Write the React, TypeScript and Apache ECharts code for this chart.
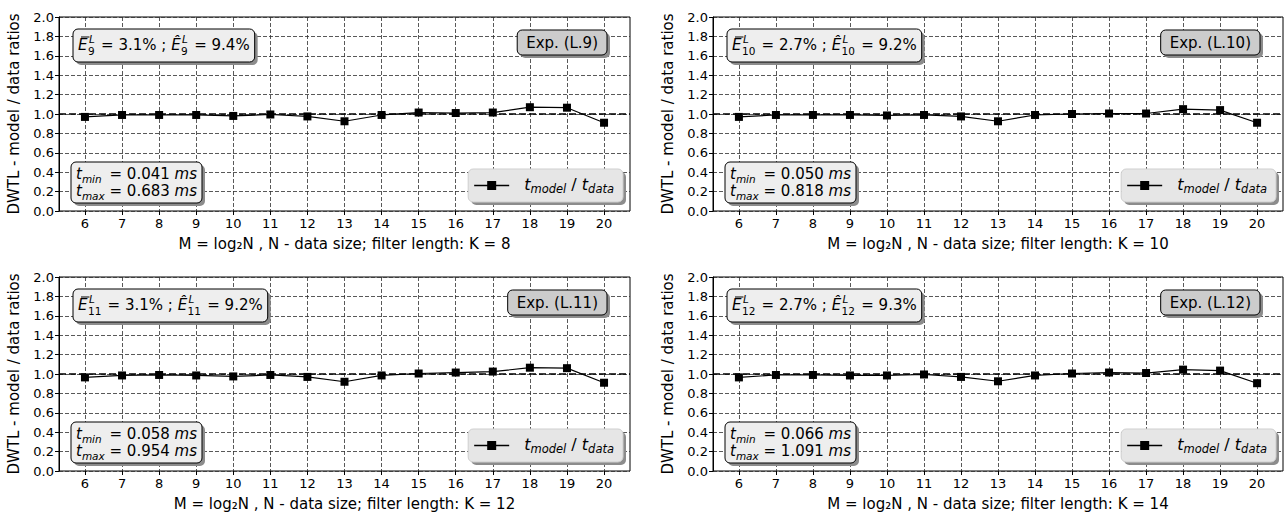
import React, { useEffect, useRef } from "react";
import * as echarts from "echarts";

// ---------------- data ----------------
const M_VALUES = [6, 7, 8, 9, 10, 11, 12, 13, 14, 15, 16, 17, 18, 19, 20];
const FILTER_LENGTHS = [8, 10, 12, 14];
const RATIOS_K8 = [0.97, 0.99, 0.99, 0.99, 0.98, 0.995, 0.975, 0.925, 0.99, 1.015, 1.01, 1.015, 1.07, 1.065, 0.91];
const RATIOS_K10 = [0.97, 0.99, 0.99, 0.99, 0.985, 0.99, 0.975, 0.925, 0.99, 1.0, 1.005, 1.005, 1.05, 1.04, 0.91];
const RATIOS_K12 = [0.965, 0.985, 0.99, 0.985, 0.975, 0.99, 0.97, 0.92, 0.985, 1.005, 1.015, 1.025, 1.065, 1.06, 0.91];
const RATIOS_K14 = [0.965, 0.99, 0.99, 0.985, 0.985, 0.995, 0.97, 0.925, 0.985, 1.005, 1.015, 1.01, 1.045, 1.035, 0.905];
const SERIES_VALUES = [RATIOS_K8, RATIOS_K10, RATIOS_K12, RATIOS_K14];
const EXP_LABELS = ["Exp. (L.9)", "Exp. (L.10)", "Exp. (L.11)", "Exp. (L.12)"];
const ERR_SUBSCRIPTS = ["9", "10", "11", "12"];
const MEAN_ERRORS = ["3.1%", "2.7%", "3.1%", "2.7%"];
const MAX_ERRORS = ["9.4%", "9.2%", "9.2%", "9.3%"];
const T_MIN_MS = ["0.041", "0.050", "0.058", "0.066"];
const T_MAX_MS = ["0.683", "0.818", "0.954", "1.091"];
const Y_RANGE = [0, 2];
const Y_STEP = 0.2;
const X_RANGE = [5.3, 20.7];
const REF_RATIO = 1.0;
const Y_NAME = "DWTL - model / data ratios";
const X_NAME_PREFIX = "M = log\u2082N , N - data size; filter length: K = ";
const SERIES_NAME = "t_model / t_data";

// ---------------- layout ----------------
const PANEL_BOXES = [
  { left: 59, top: 17, width: 571, height: 194 },
  { left: 713, top: 17, width: 570, height: 194 },
  { left: 59, top: 277, width: 571, height: 194 },
  { left: 713, top: 277, width: 570, height: 194 },
];
const FONT = "DejaVu Sans";
const GRID_LINE = { color: "#2e2e2e", width: 0.8, type: [4, 2] as number[] };

let measureCtx: CanvasRenderingContext2D | null = null;
function textWidth(text: string, size: number, italic: boolean): number {
  if (!measureCtx) measureCtx = document.createElement("canvas").getContext("2d");
  measureCtx!.font = `${italic ? "italic " : ""}${size}px "${FONT}"`;
  return measureCtx!.measureText(text).width;
}

function textEl(text: string, x: number, baseline: number, size: number, italic: boolean, z: number) {
  return {
    type: "text",
    x,
    y: baseline - 0.35 * size,
    z,
    silent: true,
    style: {
      text,
      fontSize: size,
      fontFamily: FONT,
      fontStyle: italic ? "italic" : "normal",
      fill: "#000",
      align: "left",
      verticalAlign: "middle",
    },
  };
}

type Piece =
  | { kind: "text"; text: string; size: number; italic?: boolean; dy?: number; overline?: boolean }
  | { kind: "scripts"; sup: string; sub: string; size: number };

function placePieces(pieces: Piece[], x0: number, baseline: number, out: any[], z: number): number {
  let x = x0;
  for (const p of pieces) {
    if (p.kind === "scripts") {
      const wSup = textWidth(p.sup, p.size, true);
      const wSub = textWidth(p.sub, p.size, false);
      out.push(textEl(p.sup, x + 1.5, baseline - 7.5, p.size, true, z));
      out.push(textEl(p.sub, x + 0.5, baseline + 4, p.size, false, z));
      x += Math.max(wSup + 1.5, wSub + 0.5) + 1.5;
    } else {
      const w = textWidth(p.text, p.size, !!p.italic);
      out.push(textEl(p.text, x, baseline + (p.dy ?? 0), p.size, !!p.italic, z));
      if (p.overline) {
        out.push({
          type: "line",
          z,
          silent: true,
          shape: { x1: x + 3, y1: baseline - 13.5, x2: x + w + 2, y2: baseline - 13.5 },
          style: { stroke: "#000", lineWidth: 1 },
        });
      }
      x += w;
    }
  }
  return x - x0;
}

function boxWithShadow(x: number, y: number, w: number, h: number, fill: string, stroke: string, out: any[]) {
  out.push({
    type: "rect",
    z: 100,
    silent: true,
    shape: { x: x + 3, y: y + 3, width: w, height: h, r: 5 },
    style: { fill: "#8c8c8c", stroke: null },
  });
  out.push({
    type: "rect",
    z: 101,
    silent: true,
    shape: { x, y, width: w, height: h, r: 5 },
    style: { fill, stroke, lineWidth: 1 },
  });
}

function buildOption() {
  const grids: any[] = [];
  const xAxes: any[] = [];
  const yAxes: any[] = [];
  const series: any[] = [];
  const graphics: any[] = [];
  const span = X_RANGE[1] - X_RANGE[0];
  const xFirst = M_VALUES[0];
  const xLast = M_VALUES[M_VALUES.length - 1];

  PANEL_BOXES.forEach((b, p) => {
    const innerLeft = b.left + ((xFirst - X_RANGE[0]) / span) * b.width;
    const innerWidth = ((xLast - xFirst) / span) * b.width;
    grids.push({
      left: b.left, top: b.top, width: b.width, height: b.height,
      show: true, borderColor: "#000", borderWidth: 1, backgroundColor: "transparent",
    });
    grids.push({ left: innerLeft, top: b.top, width: innerWidth, height: b.height });

    xAxes.push({ gridIndex: 2 * p, type: "value", min: X_RANGE[0], max: X_RANGE[1], show: false });
    xAxes.push({
      gridIndex: 2 * p + 1,
      type: "value",
      min: xFirst,
      max: xLast,
      interval: 1,
      name: X_NAME_PREFIX + FILTER_LENGTHS[p],
      nameLocation: "middle",
      nameGap: 25,
      nameTextStyle: { fontSize: 15, color: "#000", fontFamily: FONT },
      axisLine: { show: false },
      axisTick: { show: true, inside: false, length: 4, lineStyle: { color: "#000", width: 1 } },
      axisLabel: { fontSize: 13, color: "#000", margin: 6, fontFamily: FONT },
      splitLine: { show: true, lineStyle: GRID_LINE },
    });
    yAxes.push({
      gridIndex: 2 * p,
      type: "value",
      min: Y_RANGE[0],
      max: Y_RANGE[1],
      interval: Y_STEP,
      name: Y_NAME,
      nameLocation: "middle",
      nameRotate: 90,
      nameGap: 38,
      nameTextStyle: { fontSize: 15, color: "#000", fontFamily: FONT },
      axisLine: { show: true, lineStyle: { color: "#000", width: 1 } },
      axisTick: { show: true, inside: false, length: 4, lineStyle: { color: "#000", width: 1 } },
      axisLabel: {
        fontSize: 13, color: "#000", margin: 5, fontFamily: FONT,
        formatter: (v: number) => v.toFixed(1),
      },
      splitLine: { show: true, lineStyle: GRID_LINE },
    });
    yAxes.push({ gridIndex: 2 * p + 1, type: "value", min: Y_RANGE[0], max: Y_RANGE[1], show: false });

    series.push({
      type: "line",
      xAxisIndex: 2 * p,
      yAxisIndex: 2 * p,
      data: [[X_RANGE[0], REF_RATIO], [X_RANGE[1], REF_RATIO]],
      symbol: "none",
      silent: true,
      z: 2,
      lineStyle: { color: "#000", width: 1.6, type: [7, 3] },
    });
    series.push({
      name: SERIES_NAME,
      type: "line",
      xAxisIndex: 2 * p + 1,
      yAxisIndex: 2 * p + 1,
      data: M_VALUES.map((m, i) => [m, SERIES_VALUES[p][i]]),
      symbol: "rect",
      symbolSize: 8,
      z: 3,
      itemStyle: { color: "#000" },
      lineStyle: { color: "#000", width: 1.2 },
    });

    const right = b.left + b.width;
    const bottom = b.top + b.height;

    // --- error stats box (top-left) ---
    const statPieces: Piece[] = [
      { kind: "text", text: "E", size: 15, italic: true, overline: true },
      { kind: "scripts", sup: "L", sub: ERR_SUBSCRIPTS[p], size: 10.5 },
      { kind: "text", text: ` = ${MEAN_ERRORS[p]} ; `, size: 15 },
      { kind: "text", text: "\u00CA", size: 15, italic: true },
      { kind: "scripts", sup: "L", sub: ERR_SUBSCRIPTS[p], size: 10.5 },
      { kind: "text", text: ` = ${MAX_ERRORS[p]}`, size: 15 },
    ];
    const statW = placePieces(statPieces, 0, 0, [], 0);
    const sx = b.left + 14;
    const sy = b.top + 12;
    boxWithShadow(sx, sy, statW + 10, 33, "#eeeeee", "#000", graphics);
    placePieces(statPieces, sx + 5, sy + 21.5, graphics, 102);

    // --- experiment label box (top-right) ---
    const expW = textWidth(EXP_LABELS[p], 15, false) + 18;
    const ex = right - 23 - expW;
    const ey = b.top + 13;
    boxWithShadow(ex, ey, expW, 25, "#cccccc", "#000", graphics);
    graphics.push(textEl(EXP_LABELS[p], ex + 9, ey + 18, 15, false, 102));

    // --- timing box (bottom-left) ---
    const minPrefix: Piece[] = [
      { kind: "text", text: "t", size: 15, italic: true },
      { kind: "text", text: "min", size: 10.5, italic: true, dy: 3.5 },
    ];
    const maxPrefix: Piece[] = [
      { kind: "text", text: "t", size: 15, italic: true },
      { kind: "text", text: "max", size: 10.5, italic: true, dy: 3.5 },
    ];
    const minRest: Piece[] = [
      { kind: "text", text: ` = ${T_MIN_MS[p]} `, size: 15 },
      { kind: "text", text: "ms", size: 15, italic: true },
    ];
    const maxRest: Piece[] = [
      { kind: "text", text: ` = ${T_MAX_MS[p]} `, size: 15 },
      { kind: "text", text: "ms", size: 15, italic: true },
    ];
    const prefW = Math.max(placePieces(minPrefix, 0, 0, [], 0), placePieces(maxPrefix, 0, 0, [], 0));
    const restW = Math.max(placePieces(minRest, 0, 0, [], 0), placePieces(maxRest, 0, 0, [], 0));
    const tw = prefW + restW + 10;
    const th = 41;
    const tx = b.left + 12;
    const ty = bottom - 8 - th;
    boxWithShadow(tx, ty, tw, th, "#eeeeee", "#000", graphics);
    placePieces(minPrefix, tx + 5, ty + 17, graphics, 102);
    placePieces(minRest, tx + 5 + prefW, ty + 17, graphics, 102);
    placePieces(maxPrefix, tx + 5, ty + 34, graphics, 102);
    placePieces(maxRest, tx + 5 + prefW, ty + 34, graphics, 102);

    // --- legend (bottom-right) ---
    const legPieces: Piece[] = [
      { kind: "text", text: "t", size: 16, italic: true },
      { kind: "text", text: "model", size: 11.5, italic: true, dy: 3.5 },
      { kind: "text", text: " / ", size: 16 },
      { kind: "text", text: "t", size: 16, italic: true },
      { kind: "text", text: "data", size: 11.5, italic: true, dy: 3.5 },
    ];
    const legTextW = placePieces(legPieces, 0, 0, [], 0);
    const lw = 56 + legTextW + 9;
    const lh = 33;
    const lx = right - 7 - lw;
    const ly = bottom - 9 - lh;
    boxWithShadow(lx, ly, lw, lh, "#e6e6e6", "#cfcfcf", graphics);
    const cy = ly + lh / 2;
    graphics.push({
      type: "line", z: 102, silent: true,
      shape: { x1: lx + 6, y1: cy, x2: lx + 41, y2: cy },
      style: { stroke: "#000", lineWidth: 1.3 },
    });
    graphics.push({
      type: "rect", z: 102, silent: true,
      shape: { x: lx + 23.5 - 4.5, y: cy - 4.5, width: 9, height: 9 },
      style: { fill: "#000" },
    });
    placePieces(legPieces, lx + 56, cy + 4.5, graphics, 102);
  });

  return {
    animation: false,
    backgroundColor: "#ffffff",
    textStyle: { fontFamily: FONT },
    grid: grids,
    xAxis: xAxes,
    yAxis: yAxes,
    series,
    graphic: { elements: graphics },
  };
}

export default function App() {
  const ref = useRef<HTMLDivElement>(null);
  useEffect(() => {
    const chart = echarts.init(ref.current!, null, { renderer: "svg" });
    chart.setOption(buildOption() as any);
    return () => chart.dispose();
  }, []);
  return (
    <div
      ref={ref}
      style={{ position: "absolute", left: 0, top: 0, width: 1287, height: 520, background: "#fff" }}
    />
  );
}
